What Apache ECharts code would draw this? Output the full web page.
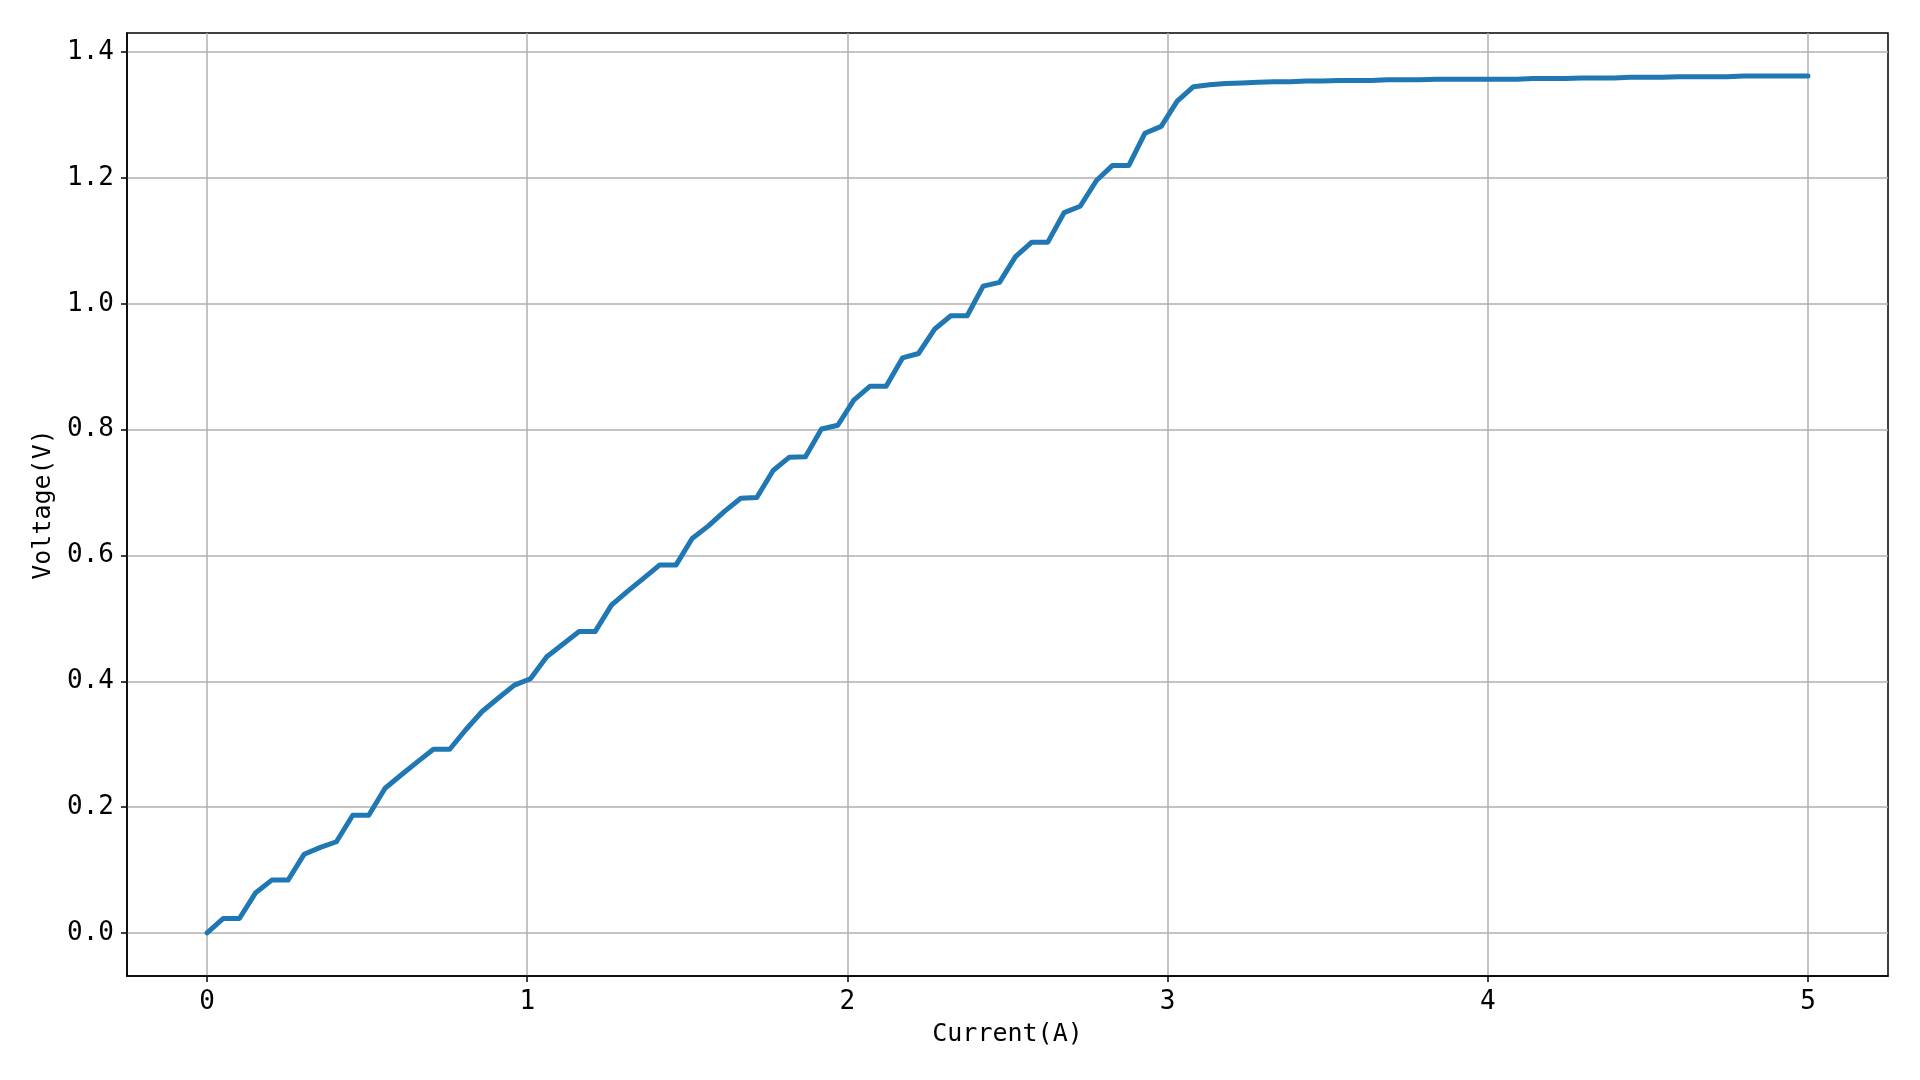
<!DOCTYPE html>
<html>
<head>
<meta charset="utf-8">
<script src="https://cdn.jsdelivr.net/npm/echarts@6/dist/echarts.min.js"></script>
<style>
  html, body { margin: 0; padding: 0; background: #fff; }
  #chart { width: 1920px; height: 1080px; }
</style>
</head>
<body>
<div id="chart"></div>
<script>
// Current (A) samples
const current = [
  0.000, 0.051, 0.101, 0.152, 0.202, 0.253, 0.303, 0.354, 0.404, 0.455,
  0.505, 0.556, 0.606, 0.657, 0.707, 0.758, 0.808, 0.859, 0.909, 0.960,
  1.010, 1.061, 1.111, 1.162, 1.212, 1.263, 1.313, 1.364, 1.414, 1.465,
  1.515, 1.566, 1.616, 1.667, 1.717, 1.768, 1.818, 1.869, 1.919, 1.970,
  2.020, 2.071, 2.121, 2.172, 2.222, 2.273, 2.323, 2.374, 2.424, 2.475,
  2.525, 2.576, 2.626, 2.677, 2.727, 2.778, 2.828, 2.879, 2.929, 2.980,
  3.030, 3.081, 3.131, 3.182, 3.232, 3.283, 3.333, 3.384, 3.434, 3.485,
  3.535, 3.586, 3.636, 3.687, 3.737, 3.788, 3.838, 3.889, 3.939, 3.990,
  4.040, 4.091, 4.141, 4.192, 4.242, 4.293, 4.343, 4.394, 4.444, 4.495,
  4.545, 4.596, 4.646, 4.697, 4.747, 4.798, 4.848, 4.899, 4.949, 5.000
];
// Voltage (V)
const voltage = [
  0.000, 0.023, 0.023, 0.064, 0.084, 0.084, 0.125, 0.136, 0.145, 0.187,
  0.187, 0.230, 0.251, 0.272, 0.292, 0.292, 0.323, 0.352, 0.373, 0.394,
  0.404, 0.439, 0.459, 0.479, 0.479, 0.521, 0.543, 0.564, 0.585, 0.585,
  0.627, 0.647, 0.670, 0.691, 0.692, 0.735, 0.756, 0.757, 0.801, 0.807,
  0.847, 0.869, 0.869, 0.914, 0.921, 0.960, 0.981, 0.981, 1.028, 1.034,
  1.075, 1.098, 1.098, 1.145, 1.155, 1.196, 1.220, 1.220, 1.271, 1.282,
  1.322, 1.345, 1.348, 1.350, 1.351, 1.352, 1.353, 1.353, 1.354, 1.354,
  1.355, 1.355, 1.355, 1.356, 1.356, 1.356, 1.357, 1.357, 1.357, 1.357,
  1.357, 1.357, 1.358, 1.358, 1.358, 1.359, 1.359, 1.359, 1.360, 1.360,
  1.360, 1.361, 1.361, 1.361, 1.361, 1.362, 1.362, 1.362, 1.362, 1.362
];
const xTicks = [0, 1, 2, 3, 4, 5];
const yTicks = [0, 0.2, 0.4, 0.6, 0.8, 1.0, 1.2, 1.4];
const xName = 'Current(A)';
const yName = 'Voltage(V)';

const FONT = 'DejaVu Sans Mono';
const chart = echarts.init(document.getElementById('chart'), null, { renderer: 'canvas' });
const data = current.map((c, i) => [c, voltage[i]]);

chart.setOption({
  animation: false,
  backgroundColor: '#ffffff',
  grid: {
    left: 127, right: 32, top: 33, bottom: 104,
    show: true, borderColor: '#000000', borderWidth: 1.5, backgroundColor: 'transparent'
  },
  xAxis: {
    type: 'value',
    min: -0.25, max: 5.25,
    position: 'bottom',
    name: xName, nameLocation: 'middle', nameGap: 46,
    nameTextStyle: { fontFamily: FONT, fontSize: 25, color: '#000' },
    axisLine: { show: true, onZero: false, lineStyle: { color: '#000', width: 1.5 } },
    axisTick: { show: true, inside: false, length: 6, lineStyle: { color: '#000', width: 1.5 }, customValues: xTicks },
    axisLabel: { fontFamily: FONT, fontSize: 26, color: '#000', margin: 13, customValues: xTicks,
      formatter: v => String(v) },
    splitLine: { show: true, lineStyle: { color: '#b0b0b0', width: 1.5 } }
  },
  yAxis: {
    type: 'value',
    min: -0.0684, max: 1.4304,
    position: 'left',
    name: yName, nameLocation: 'middle', nameGap: 70,
    nameTextStyle: { fontFamily: FONT, fontSize: 25, color: '#000' },
    axisLine: { show: true, onZero: false, lineStyle: { color: '#000', width: 1.5 } },
    axisTick: { show: true, inside: false, length: 6, lineStyle: { color: '#000', width: 1.5 }, customValues: yTicks },
    axisLabel: { fontFamily: FONT, fontSize: 26, color: '#000', margin: 13, customValues: yTicks,
      formatter: v => v.toFixed(1) },
    splitLine: { show: true, lineStyle: { color: '#b0b0b0', width: 1.5 } }
  },
  series: [{
    type: 'line',
    data: data,
    showSymbol: false,
    smooth: false,
    lineStyle: { color: '#1f77b4', width: 5, cap: 'round', join: 'round' },
    z: 3
  }]
});
</script>
</body>
</html>
